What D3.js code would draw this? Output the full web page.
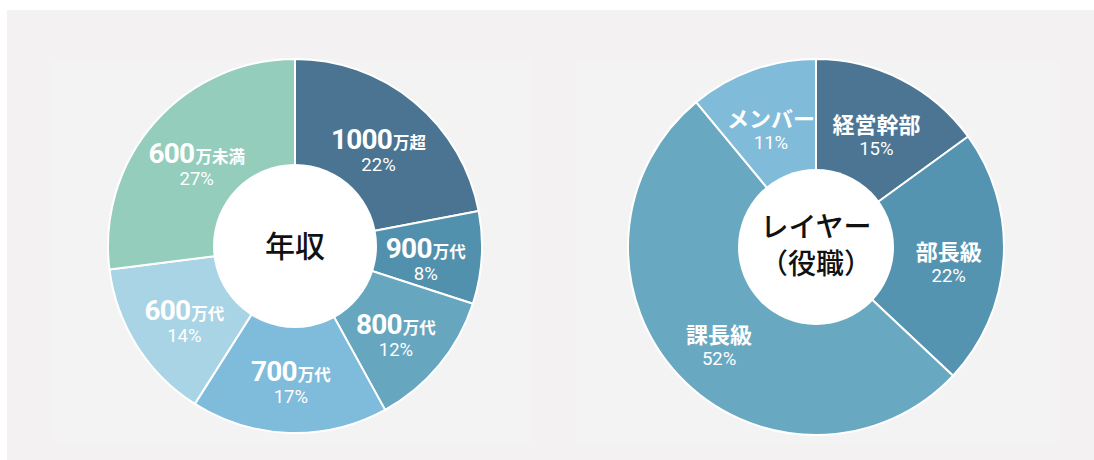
<!DOCTYPE html>
<html><head><meta charset="utf-8">
<script src="https://cdn.jsdelivr.net/npm/d3@7/dist/d3.min.js"></script>
<style>
html,body{margin:0;padding:0;background:#fff;}
svg{display:block;}
</style></head>
<body>
<svg id="chart" width="1094" height="460"></svg>
<script>
// Data
const incomeNumbers = ["1000", "900", "800", "700", "600", "600"];
const incomeSuffixes = ["万超", "万代", "万代", "万代", "万代", "万未満"];
const incomeValues = [22, 8, 12, 17, 14, 27];
const incomeColors = ["#4a7491", "#5291ae", "#67a6bf", "#7fbbda", "#a8d4e5", "#94cdbb"];
const incomeTitle = ["年収"];

const layerLabels = ["経営幹部", "部長級", "課長級", "メンバー"];
const layerValues = [15, 22, 52, 11];
const layerColors = ["#4b7593", "#5594b0", "#69a8c1", "#80bbd9"];
const layerTitle = ["レイヤー", "（役職）"];

const svg = d3.select("#chart");
const W = 1094, H = 460;
const numFont = "Roboto, 'Noto Sans', sans-serif";
const jpFont = "'Noto Sans CJK JP', 'Noto Sans', sans-serif";

// background
svg.append("rect").attr("x", 7).attr("y", 10).attr("width", W - 7).attr("height", H - 10).attr("fill", "#f3f1f1");
svg.append("rect").attr("x", 53).attr("y", 58).attr("width", 480).attr("height", 385).attr("fill", "#f4f3f3");
svg.append("rect").attr("x", 575).attr("y", 58).attr("width", 483).attr("height", 385).attr("fill", "#f4f3f3");

function drawDonut(cfg) {
  const g = svg.append("g").attr("transform", `translate(${cfg.cx},${cfg.cy})`);
  const pie = d3.pie().sort(null).value(d => d.v);
  const arcs = pie(cfg.data);
  const arc = d3.arc().innerRadius(0).outerRadius(cfg.outer);
  const labelArc = d3.arc().innerRadius(cfg.labelR).outerRadius(cfg.labelR);
  g.selectAll("path.slice").data(arcs).join("path")
    .attr("class", "slice")
    .attr("d", arc)
    .attr("fill", d => d.data.c)
    .attr("stroke", "#ffffff")
    .attr("stroke-width", 2)
    .attr("stroke-linejoin", "round");
  g.append("circle").attr("r", cfg.inner).attr("fill", "#ffffff");

  const lbl = g.selectAll("g.lbl").data(arcs).join("g").attr("class", "lbl")
    .attr("transform", d => { const c = labelArc.centroid(d); return `translate(${c[0]},${c[1]})`; });
  cfg.nameFn(lbl);
  lbl.append("text")
    .attr("y", cfg.pctDy)
    .attr("text-anchor", "middle")
    .attr("fill", "#ffffff")
    .attr("font-family", numFont)
    .attr("font-size", 18.5)
    .attr("font-weight", 400)
    .text(d => d.data.v + "%");

  const t = g.append("text").attr("text-anchor", "middle").attr("fill", "#111")
    .attr("font-family", jpFont).attr("font-size", cfg.titleSize).attr("font-weight", 500);
  cfg.title.forEach((s, i) => {
    t.append("tspan").attr("x", 0)
      .attr("y", cfg.titleY0 + i * cfg.titleLH)
      .text(s);
  });
}

drawDonut({
  cx: 295, cy: 246, outer: 187, inner: 82, labelR: 131, pctDy: 26,
  data: incomeValues.map((v, i) => ({ v, n: incomeNumbers[i], s: incomeSuffixes[i], c: incomeColors[i] })),
  title: incomeTitle, titleSize: 30, titleY0: 11, titleLH: 36,
  nameFn: sel => {
    const t = sel.append("text").attr("y", 4).attr("text-anchor", "middle").attr("fill", "#fff");
    t.append("tspan").attr("font-family", numFont).attr("font-size", 28).attr("font-weight", 700)
      .attr("letter-spacing", -0.8).text(d => d.data.n);
    t.append("tspan").attr("font-family", jpFont).attr("font-size", 16.5).attr("font-weight", 700)
      .attr("dx", 1).text(d => d.data.s);
  }
});

drawDonut({
  cx: 816, cy: 247, outer: 188, inner: 78, labelR: 133, pctDy: 27,
  data: layerValues.map((v, i) => ({ v, n: layerLabels[i], c: layerColors[i] })),
  title: layerTitle, titleSize: 28, titleY0: -10, titleLH: 37,
  nameFn: sel => {
    sel.append("text").attr("y", 5).attr("text-anchor", "middle").attr("fill", "#fff")
      .attr("font-family", jpFont).attr("font-size", 22).attr("font-weight", 700)
      .text(d => d.data.n);
  }
});
</script>
</body></html>
